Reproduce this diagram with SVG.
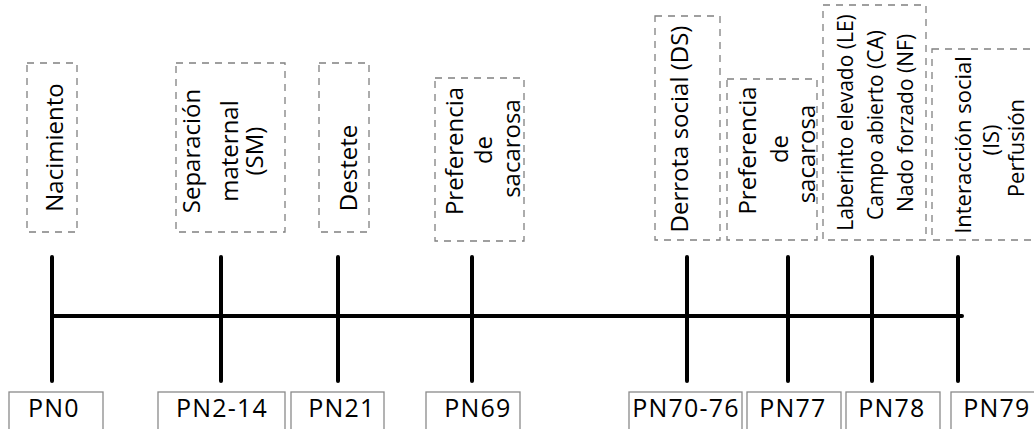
<svg xmlns="http://www.w3.org/2000/svg" width="1034" height="429" viewBox="0 0 1034 429">
<style>
.bg{fill:#ffffff}
.dbox{fill:none;stroke:#808080;stroke-width:1.3;stroke-dasharray:7 6}
.pbox{fill:#ffffff;stroke:#8a8a8a;stroke-width:1.3}
.vt{font-family:"Open Sans","Liberation Sans",sans-serif;font-size:24px;fill:#000;text-anchor:middle}
.vs{font-size:21px}
.vm{font-size:22px}
.pt{font-family:"Open Sans","Liberation Sans",sans-serif;font-size:25px;fill:#000;text-anchor:middle;letter-spacing:1.2px}
.ln{stroke:#000;stroke-width:4;stroke-linecap:round;fill:none}
</style>
<rect class="bg" x="0" y="0" width="1034" height="429"/>
<g id="connectors">
<line class="ln" x1="52" y1="316" x2="962" y2="316"/>
<line class="ln" x1="52" y1="257" x2="52" y2="381"/>
<line class="ln" x1="221" y1="257" x2="221" y2="381"/>
<line class="ln" x1="338" y1="257" x2="338" y2="381"/>
<line class="ln" x1="472" y1="257" x2="472" y2="381"/>
<line class="ln" x1="687" y1="257" x2="687" y2="381"/>
<line class="ln" x1="788" y1="257" x2="788" y2="381"/>
<line class="ln" x1="872" y1="257" x2="872" y2="381"/>
<line class="ln" x1="958" y1="257" x2="958" y2="381"/>
</g>
<g id="ev-nacimiento">
<rect class="dbox" x="27" y="63" width="50" height="169"/>
<text class="vt" transform="translate(63,147.5) rotate(-90)">Nacimiento</text>
</g>
<g id="ev-separacion">
<rect class="dbox" x="176" y="63" width="109" height="169"/>
<text class="vt" transform="translate(200,151) rotate(-90)">Separación</text>
<text class="vt" transform="translate(238,151) rotate(-90)">maternal</text>
<text class="vt" transform="translate(263,151) rotate(-90)">(SM)</text>
</g>
<g id="ev-destete">
<rect class="dbox" x="319" y="63" width="50" height="169"/>
<text class="vt" transform="translate(357,168) rotate(-90)">Destete</text>
</g>
<g id="ev-preferencia1">
<rect class="dbox" x="435" y="78" width="89" height="163"/>
<text class="vt" transform="translate(463,151) rotate(-90)">Preferencia</text>
<text class="vt" transform="translate(492,150) rotate(-90)">de</text>
<text class="vt" transform="translate(520,148.5) rotate(-90)">sacarosa</text>
</g>
<g id="ev-derrota">
<rect class="dbox" x="655" y="16" width="65" height="224"/>
<text class="vt" transform="translate(688,129) rotate(-90)">Derrota social (DS)</text>
</g>
<g id="ev-preferencia2">
<rect class="dbox" x="727" y="79" width="90" height="161"/>
<text class="vt" transform="translate(756,150.5) rotate(-90)">Preferencia</text>
<text class="vt" transform="translate(788,149) rotate(-90)">de</text>
<text class="vt" transform="translate(815,154) rotate(-90)">sacarosa</text>
</g>
<g id="ev-laberinto">
<rect class="dbox" x="823" y="5" width="103" height="235"/>
<text class="vt vs" transform="translate(853,122.5) rotate(-90)">Laberinto elevado (LE)</text>
<text class="vt vs" transform="translate(883,125) rotate(-90)">Campo abierto (CA)</text>
<text class="vt vs" transform="translate(913,123) rotate(-90)">Nado forzado (NF)</text>
</g>
<g id="ev-interaccion">
<rect class="dbox" x="932" y="49" width="110" height="191"/>
<text class="vt vm" transform="translate(971,145) rotate(-90)">Interacción social</text>
<text class="vt vm" transform="translate(999,140) rotate(-90)">(IS)</text>
<text class="vt vm" transform="translate(1024,148) rotate(-90)">Perfusión</text>
</g>
<g id="pn0"><rect class="pbox" x="9" y="392" width="94" height="45"/><text class="pt" x="54" y="417">PN0</text></g>
<g id="pn2-14"><rect class="pbox" x="158" y="392" width="127" height="45"/><text class="pt" x="222" y="417">PN2-14</text></g>
<g id="pn21"><rect class="pbox" x="291" y="392" width="93" height="45"/><text class="pt" x="342" y="417">PN21</text></g>
<g id="pn69"><rect class="pbox" x="426" y="392" width="94" height="45"/><text class="pt" x="478" y="417">PN69</text></g>
<g id="pn70-76"><rect class="pbox" x="629" y="392" width="113" height="45"/><text class="pt" x="686" y="417">PN70-76</text></g>
<g id="pn77"><rect class="pbox" x="747" y="392" width="94" height="45"/><text class="pt" x="793" y="417">PN77</text></g>
<g id="pn78"><rect class="pbox" x="846" y="392" width="94" height="45"/><text class="pt" x="892" y="417">PN78</text></g>
<g id="pn79"><rect class="pbox" x="951" y="392" width="95" height="45"/><text class="pt" x="997" y="417">PN79</text></g>
</svg>
